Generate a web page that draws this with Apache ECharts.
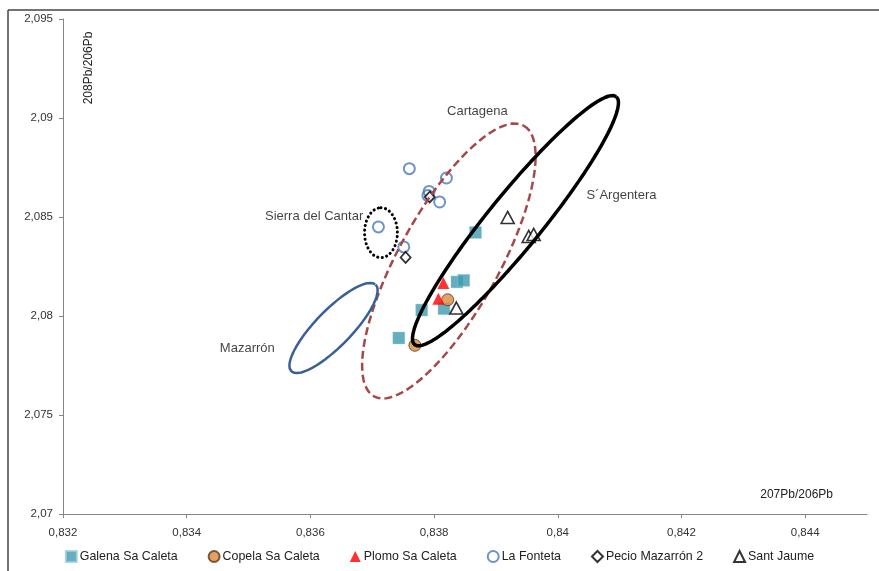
<!DOCTYPE html>
<html>
<head>
<meta charset="utf-8">
<script src="https://cdn.jsdelivr.net/npm/echarts@6/dist/echarts.min.js"></script>
<style>
html,body{margin:0;padding:0;background:#fff;}
#c{width:879px;height:571px;}
</style>
</head>
<body>
<div id="c"></div>
<script>
// ---- Data (207Pb/206Pb, 208Pb/206Pb) ----
const galena = [[0.83867,2.08422],[0.83837,2.08172],[0.83848,2.08180],[0.83780,2.08030],[0.83816,2.08037],[0.83743,2.07889]];
const copela = [[0.83822,2.08082],[0.83769,2.07852]];
const plomo = [[0.83815,2.08167],[0.83807,2.08087]];
const fonteta = [[0.83760,2.08744],[0.83820,2.08697],[0.83792,2.08629],[0.83790,2.08608],[0.83809,2.08576],[0.83710,2.08450],[0.83751,2.08349]];
const pecio = [[0.83793,2.08601],[0.83754,2.08296]];
const jaume = [[0.83919,2.08498],[0.83953,2.08402],[0.83961,2.08412],[0.83836,2.08040]];

// Ellipses: center, major semi-axis vector, minor semi-axis vector (data units)
const ellArgentera = {c:[0.839316,2.084813], a:[0.001631,0.006263], b:[0.000338,-0.000859]};
const ellCartagena = {c:[0.838239,2.082778], a:[0.001211,0.006833], b:[0.000707,-0.001225]};
const ellMazarron  = {c:[0.836374,2.079394], a:[0.000682,0.002187], b:[0.000208,-0.000636]};
const ellCantar    = {c:[0.837141,2.084207], a:[0,0.001263], b:[0.000266,0]};

// Region labels (data coords)
const regionNames = ['Cartagena','S\u00b4Argentera','Sierra del Cantar','Mazarr\u00f3n'];
const regionPos = [[0.83870,2.09032],[0.84103,2.08611],[0.83606,2.08503],[0.83498,2.07838]];

// Axis ticks
const xTicks = [0.832,0.834,0.836,0.838,0.840,0.842,0.844];
const yTicks = [2.070,2.075,2.080,2.085,2.090,2.095];

const seriesNames = ['Galena Sa Caleta','Copela Sa Caleta','Plomo Sa Caleta','La Fonteta','Pecio Mazarr\u00f3n 2','Sant Jaume'];

function ellipsePts(e){
  const pts=[];
  const n=180;
  for(let i=0;i<=n;i++){
    const t=2*Math.PI*i/n;
    pts.push([e.c[0]+e.a[0]*Math.cos(t)+e.b[0]*Math.sin(t), e.c[1]+e.a[1]*Math.cos(t)+e.b[1]*Math.sin(t)]);
  }
  return pts;
}
function fmt(v){return (Math.round(v*1000)/1000).toString().replace('.',',');}

const FONT='Liberation Sans';
const chart = echarts.init(document.getElementById('c'));

function ellSeries(e,color,width,type,cap){
  return {type:'line',data:ellipsePts(e),showSymbol:false,symbol:'none',silent:true,z:5,
    lineStyle:{color:color,width:width,type:type,cap:cap||'butt'},animation:false};
}

chart.setOption({
  animation:false,
  backgroundColor:'#fff',
  grid:{left:63,right:12,top:19,bottom:57,containLabel:false},
  xAxis:{type:'value',min:0.832,max:0.845,interval:0.002,
    axisLine:{show:true,onZero:false,lineStyle:{color:'#868686',width:1}},
    axisTick:{show:true,length:4,customValues:xTicks,lineStyle:{color:'#868686'}},
    axisLabel:{customValues:xTicks,formatter:fmt,color:'#333',fontFamily:FONT,fontSize:11.5,margin:13},
    splitLine:{show:false}},
  yAxis:{type:'value',min:2.07,max:2.095,interval:0.005,
    axisLine:{show:true,onZero:false,lineStyle:{color:'#868686',width:1}},
    axisTick:{show:true,length:4,customValues:yTicks,lineStyle:{color:'#868686'}},
    axisLabel:{customValues:yTicks,formatter:fmt,color:'#333',fontFamily:FONT,fontSize:11.5,margin:10},
    splitLine:{show:false}},
  legend:{data:seriesNames,bottom:3,left:'center',itemGap:30,itemWidth:11,itemHeight:11,
    textStyle:{fontFamily:FONT,fontSize:12.4,color:'#222',padding:[0,0,0,-2]}},
  graphic:[
    {type:'line',shape:{x1:8,y1:10,x2:879,y2:10},style:{stroke:'#444',lineWidth:1.5},z:100},
    {type:'line',shape:{x1:8,y1:10,x2:8,y2:571},style:{stroke:'#444',lineWidth:1.5},z:100},
    {type:'text',x:89,y:68,rotation:Math.PI/2,style:{text:'208Pb/206Pb',fontFamily:FONT,fontSize:12,fill:'#222',align:'center',verticalAlign:'middle'}},
    {type:'text',x:833,y:495,style:{text:'207Pb/206Pb',fontFamily:FONT,fontSize:12,fill:'#222',align:'right',verticalAlign:'middle'}}
  ],
  series:[
    {name:seriesNames[0],type:'scatter',data:galena,symbol:'rect',symbolSize:12,z:3,
      itemStyle:{color:'#3F9AB0',borderColor:'#9fd0dc',borderWidth:0.5}},
    {name:seriesNames[1],type:'scatter',data:copela,symbol:'circle',symbolSize:12,z:3,
      itemStyle:{color:'#DE8A3C',borderColor:'#5a3a1a',borderWidth:1}},
    {name:seriesNames[2],type:'scatter',data:plomo,symbol:'triangle',symbolSize:12,z:3,
      itemStyle:{color:'#FF0000'}},
    {name:seriesNames[3],type:'scatter',data:fonteta,symbol:'circle',symbolSize:11,z:3,
      itemStyle:{color:'rgba(255,255,255,0)',borderColor:'#4A78B8',borderWidth:2}},
    {name:seriesNames[4],type:'scatter',data:pecio,symbol:'diamond',symbolSize:[10,11],z:3,
      itemStyle:{color:'#fff',borderColor:'#000',borderWidth:1.8}},
    {name:seriesNames[5],type:'scatter',data:jaume,symbol:'triangle',symbolSize:[13,12],z:3,
      itemStyle:{color:'#fff',borderColor:'#000',borderWidth:1.6}},
    ellSeries(ellCartagena,'#A5484A',2.5,[8,4]),
    ellSeries(ellArgentera,'#000',3.5,'solid'),
    ellSeries(ellMazarron,'#3A6096',2.5,'solid'),
    ellSeries(ellCantar,'#000',3,[0.1,4.5],'round'),
    {type:'scatter',silent:true,symbolSize:0,z:6,
      data:regionPos.map((p,i)=>({value:p,name:regionNames[i]})),
      label:{show:true,position:'inside',formatter:'{b}',fontFamily:FONT,fontSize:13,color:'#111'}}
  ]
});
</script>
</body>
</html>
